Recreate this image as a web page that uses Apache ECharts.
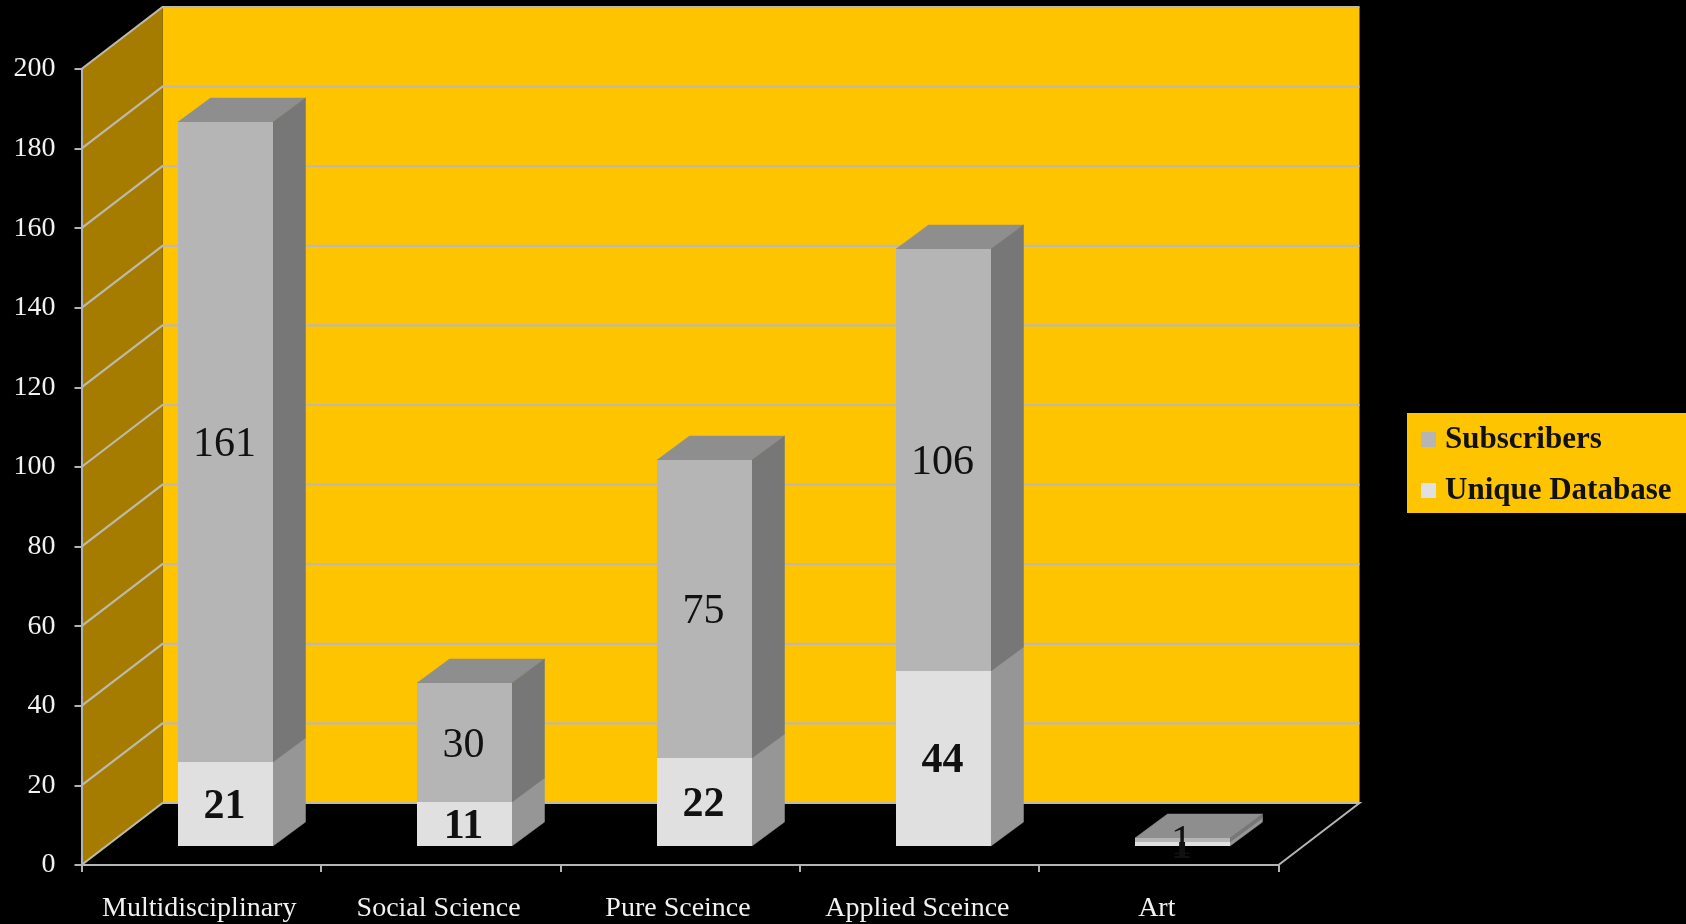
<!DOCTYPE html>
<html>
<head>
<meta charset="utf-8">
<style>html,body{margin:0;padding:0;background:#000}#c{width:1686px;height:924px}</style>
<script src="https://cdn.jsdelivr.net/npm/echarts@6/dist/echarts.min.js"></script>
</head>
<body>
<div id="c"></div>
<script>
const categories = ['Multidisciplinary','Social Science','Pure Sceince','Applied Sceince','Art'];
const subscribers = [161,30,75,106,1];
const uniqueDatabase = [21,11,22,44,1];
const yTicks = [0,20,40,60,80,100,120,140,160,180,200];

const FONT = '"Liberation Serif", serif';
const WALL_DX = 81, WALL_DY = -62;
const BAR_SHIFT_X = 24, BAR_SHIFT_Y = -19;
const BAR_DX = 32.5, BAR_DY = -24;
const BAR_RATIO = 0.397;
const LABEL_DX = -1, LABEL_DY = 3;

const chart = echarts.init(document.getElementById('c'), null, {renderer:'canvas'});

function barItem(colors, weight){
  return function(params, api){
    const idx = api.value(0), base = api.value(1), val = api.value(2);
    const p0 = api.coord([idx, base]), p1 = api.coord([idx, base + val]);
    const w = Math.round(api.size([1,0])[0] * BAR_RATIO);
    const xL = Math.round(p0[0] + BAR_SHIFT_X - w/2), xR = xL + w;
    const yB = Math.round(p0[1] + BAR_SHIFT_Y), yT = Math.round(p1[1] + BAR_SHIFT_Y);
    const edge = c => ({fill:c, stroke:c, lineWidth:0.5});
    return {type:'group', children:[
      {type:'polygon', shape:{points:[[xL,yT],[xR,yT],[xR+BAR_DX,yT+BAR_DY],[xL+BAR_DX,yT+BAR_DY]]}, style:edge(colors.top)},
      {type:'polygon', shape:{points:[[xR,yB],[xR+BAR_DX,yB+BAR_DY],[xR+BAR_DX,yT+BAR_DY],[xR,yT]]}, style:edge(colors.side)},
      {type:'rect', shape:{x:xL,y:yT,width:w,height:yB-yT}, style:{fill:colors.front}},
      {type:'text', z2:10, style:{text:String(val), x:(xL+xR)/2+LABEL_DX, y:(yB+yT)/2+LABEL_DY, align:'center', verticalAlign:'middle',
        fill:'#111', font: weight+' 42px '+FONT}}
    ]};
  };
}

function wallPlanes(params, api){
  const c = params.coordSys, x0=c.x, x1=c.x+c.width, yT=c.y, yB=c.y+c.height;
  return {type:'group', children:[
    {type:'rect', shape:{x:x0+WALL_DX,y:yT+WALL_DY,width:c.width,height:c.height}, style:{fill:'#ffc400'}},
    {type:'polygon', shape:{points:[[x0,yT],[x0+WALL_DX,yT+WALL_DY],[x0+WALL_DX,yB+WALL_DY],[x0,yB]]}, style:{fill:'#a67c00'}},
    {type:'polyline', shape:{points:[[x0+WALL_DX,yB+WALL_DY],[x1+WALL_DX,yB+WALL_DY],[x1,yB]]}, style:{fill:'none',stroke:'#b4b4b4',lineWidth:2}}
  ]};
}
function wallLines(params, api){
  const c = params.coordSys, x0=c.x, x1=c.x+c.width;
  const y = api.coord([0, api.value(0)])[1];
  return {type:'polyline', shape:{points:[[x0,y],[x0+WALL_DX,y+WALL_DY],[x1+WALL_DX,y+WALL_DY]]},
    style:{fill:'none',stroke:'#bdb9ac',lineWidth:2.2}};
}

const barCommon = {type:'custom', xAxisIndex:0, yAxisIndex:0, silent:true, animation:false, encode:{x:0,y:[1,2]}};

chart.setOption({
  backgroundColor:'#000',
  animation:false,
  grid:{left:81.5, top:69, width:1197, height:796, containLabel:false},
  legend:{
    left:1407, top:413, orient:'vertical', icon:'rect',
    data:['Subscribers','Unique Database'],
    backgroundColor:'#ffc400', itemWidth:15, itemHeight:15, itemGap:20,
    padding:[11,30,7,14], selectedMode:false,
    textStyle:{color:'#111', fontFamily:FONT, fontWeight:'bold', fontSize:31, padding:[4,0,0,4]}
  },
  xAxis:{type:'category', data:categories, z:5,
    axisLine:{lineStyle:{color:'#b4b4b4',width:2}},
    axisTick:{show:true,length:7,lineStyle:{color:'#b4b4b4',width:2}},
    axisLabel:{color:'#f2f2f2',fontFamily:FONT,fontSize:28,margin:30,interval:0,padding:[0,4,0,0]},
    splitLine:{show:false}},
  yAxis:{type:'value', min:0, max:200, interval:20, z:5,
    axisLine:{show:true,lineStyle:{color:'#b4b4b4',width:2}},
    axisTick:{show:true,length:7,lineStyle:{color:'#b4b4b4',width:2}},
    axisLabel:{color:'#f2f2f2',fontFamily:FONT,fontSize:28,margin:26,padding:[6,0,0,0]},
    splitLine:{show:false}},
  series:[
    {type:'custom', silent:true, z:1, renderItem:wallPlanes, data:[[0]], encode:{x:0}, tooltip:{show:false}},
    {type:'custom', silent:true, z:1, renderItem:wallLines, data:yTicks.map(v=>[v]), encode:{y:0}},
    Object.assign({}, barCommon, {name:'Unique Database', z:3, itemStyle:{color:'#e0e0e0'},
      renderItem:barItem({front:'#e0e0e0',side:'#969696',top:'#969696'},'bold'),
      data:uniqueDatabase.map((v,i)=>[i,0,v])}),
    Object.assign({}, barCommon, {name:'Subscribers', z:4, itemStyle:{color:'#b5b5b5'},
      renderItem:barItem({front:'#b5b5b5',side:'#777777',top:'#8e8e8e'},'normal'),
      data:subscribers.map((v,i)=>[i,uniqueDatabase[i],v])})
  ]
});
</script>
</body>
</html>
